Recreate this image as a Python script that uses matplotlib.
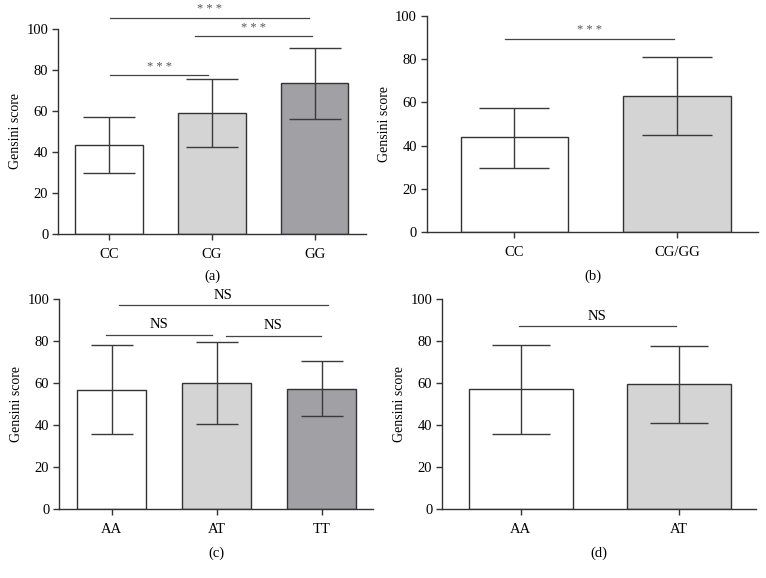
import matplotlib
matplotlib.use("Agg")
import matplotlib.pyplot as plt

plt.rcParams['font.family'] = ['Liberation Serif', 'DejaVu Serif']

# panel (a)
cats_a = ["CC", "CG", "GG"]
mean_a = [43.5, 58.8, 73.5]
up_a = [57.3, 75.5, 90.9]
low_a = [29.7, 42.4, 56.2]

# panel (b)
cats_b = ["CC", "CG/GG"]
mean_b = [43.8, 62.9]
up_b = [57.3, 81.0]
low_b = [29.6, 44.8]

# panel (c)
cats_c = ["AA", "AT", "TT"]
mean_c = [56.9, 59.8, 57.2]
up_c = [78.1, 79.3, 70.4]
low_c = [35.6, 40.4, 44.2]

# panel (d)
cats_d = ["AA", "AT"]
mean_d = [57.1, 59.5]
up_d = [78.2, 77.6]
low_d = [35.8, 41.2]

colors = ["#ffffff", "#d4d4d4", "#a1a0a5"]
edge = "#333333"

# significance brackets: (x0, x1, y, text)
sig_a = [(0.01, 1.95, 105.5, "***"), (0.83, 1.97, 96.3, "***"), (0.01, 0.96, 77.3, "***")]
sig_b = [(-0.06, 0.98, 89.4, "***")]
sig_c = [(0.07, 2.06, 97.0, "NS"), (-0.05, 0.96, 83.0, "NS"), (1.09, 1.99, 82.5, "NS")]
sig_d = [(-0.01, 0.98, 87.1, "NS")]


def panel(ax, cats, mean, up, low, sigs, xlim, cap, label):
    x = list(range(len(cats)))
    yerr = [[m - l for m, l in zip(mean, low)], [u - m for m, u in zip(mean, up)]]
    ax.bar(x, mean, width=0.66, color=colors[:len(cats)], edgecolor=edge, linewidth=1.0, zorder=2)
    ax.errorbar(x, mean, yerr=yerr, fmt="none", ecolor="#3a3a3a", elinewidth=1.0,
                capsize=cap, capthick=1.0, zorder=3)
    ax.set_xlim(*xlim)
    ax.set_ylim(0, 100)
    ax.set_yticks([0, 20, 40, 60, 80, 100])
    ax.set_xticks(x)
    ax.set_xticklabels(cats)
    for s in ["top", "right"]:
        ax.spines[s].set_visible(False)
    for s in ["left", "bottom"]:
        ax.spines[s].set_color(edge)
        ax.spines[s].set_linewidth(1.0)
    ax.tick_params(direction="out", length=4, width=1.0, color=edge, labelsize=10.5)
    ax.tick_params(axis="x", pad=6)
    ax.tick_params(axis="y", pad=3)
    ax.set_ylabel("Gensini score", fontsize=10, labelpad=3)
    for x0, x1, y, t in sigs:
        ax.plot([x0, x1], [y, y], color="#444444", lw=0.9, clip_on=False)
        if t == "***":
            ax.text((x0 + x1) / 2, y + 1.2, "* * *", ha="center", va="bottom", fontsize=9,
                    color="#555555", clip_on=False)
        else:
            ax.text((x0 + x1) / 2, y + 1.5, t, ha="center", va="bottom", fontsize=10.5,
                    clip_on=False)
    ax.text(0.5, -0.175, label, transform=ax.transAxes, ha="center", va="top", fontsize=10.5)


fig = plt.figure(figsize=(7.66, 5.78), dpi=100)
ax_a = fig.add_axes([0.0757, 0.595, 0.402, 0.355])
ax_b = fig.add_axes([0.557, 0.599, 0.433, 0.373])
ax_c = fig.add_axes([0.077, 0.119, 0.410, 0.364])
ax_d = fig.add_axes([0.577, 0.119, 0.410, 0.364])

panel(ax_a, cats_a, mean_a, up_a, low_a, sig_a, (-0.5, 2.5), 19, "(a)")
panel(ax_b, cats_b, mean_b, up_b, low_b, sig_b, (-0.54, 1.5), 25, "(b)")
panel(ax_c, cats_c, mean_c, up_c, low_c, sig_c, (-0.5, 2.49), 15, "(c)")
panel(ax_d, cats_d, mean_d, up_d, low_d, sig_d, (-0.5, 1.49), 21, "(d)")

fig.savefig("out.png", dpi=100)
